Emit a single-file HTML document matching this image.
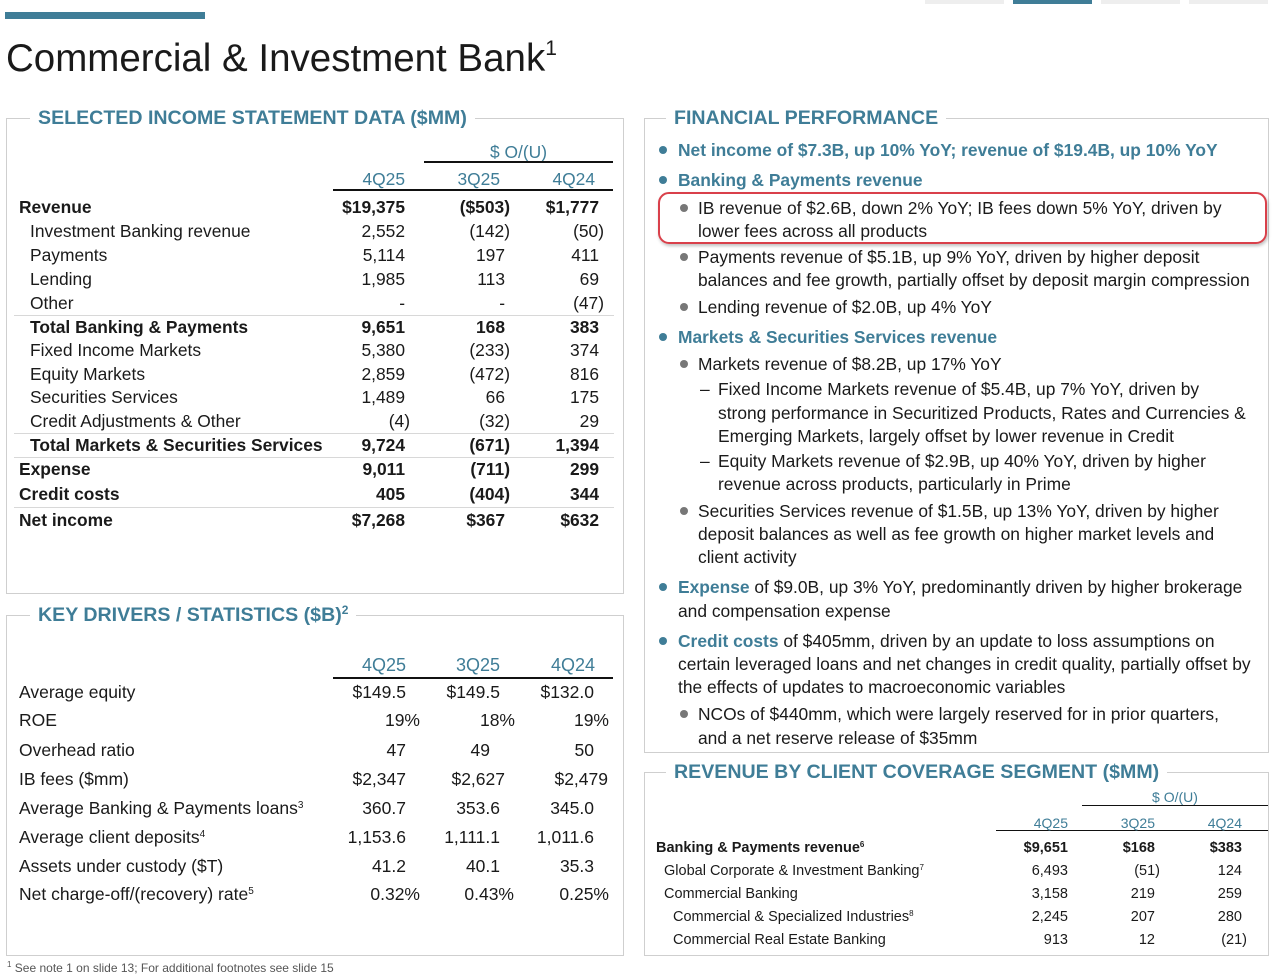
<!DOCTYPE html>
<html><head><meta charset="utf-8"><style>
*{margin:0;padding:0;box-sizing:border-box}
body{width:1280px;height:979px;background:#fff;position:relative;overflow:hidden;font-family:"Liberation Sans",Arial,sans-serif;color:#1a1a1a}
sup{line-height:0;vertical-align:baseline;position:relative;top:-0.6em}
.a{position:absolute;white-space:nowrap;line-height:20px}
.t{color:#3f7d97}
.b{font-weight:bold}
.box{position:absolute;border:1.5px solid #cfcfcf}
.h{position:absolute;background:#fff;padding:0 8px;font-weight:bold;font-size:19.6px;color:#3f7d97;line-height:22px;white-space:nowrap}
.ln{position:absolute;height:1.5px;background:#111}
.gl{position:absolute;height:1px;background:#d8d8d8}
.r{text-align:right}
.f17{font-size:17.4px}
.dot{position:absolute;width:8px;height:8px;border-radius:50%}
</style></head><body>
<div style="position:absolute;left:5px;top:12px;width:200px;height:7px;background:#3f7d97"></div>
<div style="position:absolute;left:925px;top:0;width:79px;height:4px;background:#eee"></div>
<div style="position:absolute;left:1013px;top:0;width:79px;height:4px;background:#3f7d97"></div>
<div style="position:absolute;left:1101px;top:0;width:79px;height:4px;background:#eee"></div>
<div style="position:absolute;left:1189px;top:0;width:79px;height:4px;background:#eee"></div>
<div class="a" style="left:6px;top:38px;font-size:38.5px;line-height:42px">Commercial &amp; Investment Bank<sup style="font-size:21px;top:-0.75em">1</sup></div>

<div class="box" style="left:6px;top:118px;width:618px;height:476px"></div>
<div class="h" style="left:30px;top:107px">SELECTED INCOME STATEMENT DATA ($MM)</div>
<div class="a f17 t" style="left:424px;top:142px;width:189px;text-align:center">$ O/(U)</div>
<div class="ln" style="left:424px;top:161px;width:189px"></div>
<div class="ln" style="left:333px;top:189px;width:280px;height:2px"></div>
<div class="a f17 t r" style="left:300px;top:169px;width:105px">4Q25</div>
<div class="a f17 t r" style="left:400px;top:169px;width:100px">3Q25</div>
<div class="a f17 t r" style="left:495px;top:169px;width:100px">4Q24</div>
<div class="gl" style="left:14px;top:315px;width:600px"></div>
<div class="gl" style="left:14px;top:433px;width:600px"></div>
<div class="gl" style="left:14px;top:457px;width:600px"></div>
<div class="gl" style="left:14px;top:507px;width:600px"></div>
<div id="t1"></div>

<div class="box" style="left:6px;top:615px;width:618px;height:341px"></div>
<div class="h" style="left:30px;top:604px">KEY DRIVERS / STATISTICS ($B)<sup style="font-size:12px">2</sup></div>
<div class="ln" style="left:333px;top:677px;width:280px;height:2px"></div>
<div id="t2"></div>

<div class="box" style="left:644px;top:118px;width:625px;height:635px"></div>
<div class="h" style="left:666px;top:107px">FINANCIAL PERFORMANCE</div>
<div style="position:absolute;left:658px;top:192px;width:609px;height:52px;border:2px solid #d9404a;border-radius:11px;box-shadow:1px 2px 3px rgba(0,0,0,.25)"></div>
<div id="t3"></div>

<div class="box" style="left:644px;top:772px;width:625px;height:184px"></div>
<div class="h" style="left:666px;top:761px">REVENUE BY CLIENT COVERAGE SEGMENT ($MM)</div>
<div class="a t" style="left:1082px;top:787px;width:186px;text-align:center;font-size:14px">$ O/(U)</div>
<div class="ln" style="left:1082px;top:805px;width:186px;height:1px"></div>
<div class="ln" style="left:996px;top:830px;width:272px;height:1px"></div>
<div id="t4"></div>

<div class="a" style="left:7px;top:958px;font-size:12px;color:#555"><sup style="font-size:8px">1</sup> See note 1 on slide 13; For additional footnotes see slide 15</div>

<script>
function col(y,x,v,sz,b){var pad=/\)$/.test(v)?0:5;return '<div class="a r'+(b?' b':'')+'" style="left:'+(x-150)+'px;top:'+(y-10)+'px;width:150px;padding-right:'+pad+'px;font-size:'+sz+'px">'+v+'</div>';}
var h='';
var R=[[207,'Revenue',19,1,'$19,375','($503)','$1,777'],[231,'Investment Banking revenue',30,0,'2,552','(142)','(50)'],[255,'Payments',30,0,'5,114','197','411'],[279,'Lending',30,0,'1,985','113','69'],[303,'Other',30,0,'-','-','(47)'],[327,'Total Banking &amp; Payments',30,1,'9,651','168','383'],[350,'Fixed Income Markets',30,0,'5,380','(233)','374'],[374,'Equity Markets',30,0,'2,859','(472)','816'],[397,'Securities Services',30,0,'1,489','66','175'],[421,'Credit Adjustments &amp; Other',30,0,'(4)','(32)','29'],[445,'Total Markets &amp; Securities Services',30,1,'9,724','(671)','1,394'],[469,'Expense',19,1,'9,011','(711)','299'],[494,'Credit costs',19,1,'405','(404)','344'],[520,'Net income',19,1,'$7,268','$367','$632']];
R.forEach(function(r){h+='<div class="a f17'+(r[3]?' b':'')+'" style="left:'+r[2]+'px;top:'+(r[0]-10)+'px">'+r[1]+'</div>';h+=col(r[0],410,r[4],17.4,r[3])+col(r[0],510,r[5],17.4,r[3])+col(r[0],604,r[6],17.4,r[3]);});
document.getElementById('t1').outerHTML=h;
h='';
h+='<div class="a t r" style="left:300px;top:655px;width:106px;font-size:18px">4Q25</div><div class="a t r" style="left:400px;top:655px;width:100px;font-size:18px">3Q25</div><div class="a t r" style="left:495px;top:655px;width:100px;font-size:18px">4Q24</div>';
var K=[[692,'Average equity','$149.5','$149.5','$132.0'],[720,'ROE','19%','18%','19%'],[750,'Overhead ratio','47','49','50'],[779,'IB fees ($mm)','$2,347','$2,627','$2,479'],[808,'Average Banking &amp; Payments loans<sup style="font-size:10px">3</sup>','360.7','353.6','345.0'],[837,'Average client deposits<sup style="font-size:10px">4</sup>','1,153.6','1,111.1','1,011.6'],[866,'Assets under custody ($T)','41.2','40.1','35.3'],[894,'Net charge-off/(recovery) rate<sup style="font-size:10px">5</sup>','0.32%','0.43%','0.25%']];
K.forEach(function(r){var xs=[411,505,599];if(r[1]=='ROE')xs=[425,520,614];if(r[1]=='Overhead ratio')xs=[411,495,599];if(r[1].indexOf('IB fees')==0)xs=[411,510,613];if(r[1].indexOf('Net')==0)xs=[425,519,614];
h+='<div class="a" style="left:19px;top:'+(r[0]-10)+'px;font-size:17.5px">'+r[1]+'</div>'+col(r[0],xs[0],r[2],17.5)+col(r[0],xs[1],r[3],17.5)+col(r[0],xs[2],r[4],17.5);});
document.getElementById('t2').outerHTML=h;
h='';
var T='#3f7d97',G='#777';
var L=[[150,1,'<span class="t b">Net income of $7.3B, up 10% YoY; revenue of $19.4B, up 10% YoY</span>'],[180,1,'<span class="t b">Banking &amp; Payments revenue</span>'],[208,2,'IB revenue of $2.6B, down 2% YoY; IB fees down 5% YoY, driven by'],[231,0,'lower fees across all products',698],[257,2,'Payments revenue of $5.1B, up 9% YoY, driven by higher deposit'],[280,0,'balances and fee growth, partially offset by deposit margin compression',698],[307,2,'Lending revenue of $2.0B, up 4% YoY'],[337,1,'<span class="t b">Markets &amp; Securities Services revenue</span>'],[364,2,'Markets revenue of $8.2B, up 17% YoY'],[389,3,'Fixed Income Markets revenue of $5.4B, up 7% YoY, driven by'],[413,0,'strong performance in Securitized Products, Rates and Currencies &amp;',718],[436,0,'Emerging Markets, largely offset by lower revenue in Credit',718],[461,3,'Equity Markets revenue of $2.9B, up 40% YoY, driven by higher'],[484,0,'revenue across products, particularly in Prime',718],[511,2,'Securities Services revenue of $1.5B, up 13% YoY, driven by higher'],[534,0,'deposit balances as well as fee growth on higher market levels and',698],[557,0,'client activity',698],[587,1,'<span class="t b">Expense</span> of $9.0B, up 3% YoY, predominantly driven by higher brokerage'],[611,0,'and compensation expense',678],[641,1,'<span class="t b">Credit costs</span> of $405mm, driven by an update to loss assumptions on'],[664,0,'certain leveraged loans and net changes in credit quality, partially offset by',678],[687,0,'the effects of updates to macroeconomic variables',678],[714,2,'NCOs of $440mm, which were largely reserved for in prior quarters,'],[738,0,'and a net reserve release of $35mm',698]];
L.forEach(function(r){var x=r[3]||(r[1]==1?678:r[1]==2?698:718);
if(r[1]==1)h+='<div class="dot" style="left:659px;top:'+(r[0]-4)+'px;background:'+T+'"></div>';
if(r[1]==2)h+='<div class="dot" style="left:680px;top:'+(r[0]-4)+'px;background:'+G+'"></div>';
if(r[1]==3)h+='<div class="a f17" style="left:700px;top:'+(r[0]-10)+'px">–</div>';
h+='<div class="a f17" style="left:'+x+'px;top:'+(r[0]-10)+'px">'+r[2]+'</div>';});
document.getElementById('t3').outerHTML=h;
h='';
h+='<div class="a t r" style="left:968px;top:813px;width:100px;font-size:14px">4Q25</div><div class="a t r" style="left:1055px;top:813px;width:100px;font-size:14px">3Q25</div><div class="a t r" style="left:1142px;top:813px;width:100px;font-size:14px">4Q24</div>';
var S=[[848,656,1,'Banking &amp; Payments revenue<sup style="font-size:8px">6</sup>','$9,651','$168','$383'],[871,664,0,'Global Corporate &amp; Investment Banking<sup style="font-size:8px">7</sup>','6,493','(51)','124'],[894,664,0,'Commercial Banking','3,158','219','259'],[917,673,0,'Commercial &amp; Specialized Industries<sup style="font-size:8px">8</sup>','2,245','207','280'],[940,673,0,'Commercial Real Estate Banking','913','12','(21)']];
S.forEach(function(r){h+='<div class="a'+(r[2]?' b':'')+'" style="left:'+r[1]+'px;top:'+(r[0]-10)+'px;font-size:14.5px">'+r[3]+'</div>'+col(r[0],1073,r[4],14.5,r[2])+col(r[0],1160,r[5],14.5,r[2])+col(r[0],1247,r[6],14.5,r[2]);});
document.getElementById('t4').outerHTML=h;
</script>
</body></html>
